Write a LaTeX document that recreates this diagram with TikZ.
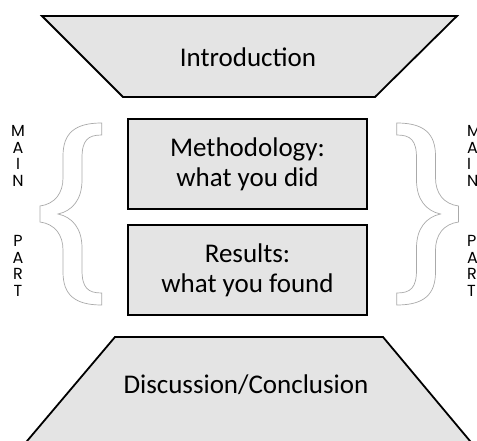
\documentclass[tikz,border=0pt]{standalone}
\usepackage{fontspec}
\setmainfont{Carlito}
\newfontfamily\lettfont{Poppins}
\definecolor{boxfill}{RGB}{228,228,228}
\definecolor{braceline}{RGB}{170,170,170}
\tikzset{
  shapeline/.style={draw=black, line width=1.8pt, fill=boxfill, line join=miter},
  mainbox/.style={draw=black, line width=2.4pt, fill=boxfill, minimum width=239pt, minimum height=90pt, inner sep=0pt, align=center, font=\fontsize{27}{30}\selectfont},
  bigtext/.style={font=\fontsize{27}{30}\selectfont, inner sep=0pt},
  letters/.style={font=\lettfont\fontsize{16}{16.6}\selectfont, inner sep=0pt},
  hbrace/.style={draw=braceline, line width=0.7pt, fill=white}
}
\newcommand\hollowbracepath{%
  (101.7,123) -- (101.7,135)
  .. controls (88,135) and (82,140) .. (82,158)
  -- (82,180)
  .. controls (82,200) and (72,211) .. (58,214)
  .. controls (72,217) and (82,228) .. (82,248)
  -- (82,270)
  .. controls (82,288) and (88,293) .. (101.7,293)
  -- (101.7,305)
  .. controls (75,305) and (63,295) .. (63,272)
  -- (63,250)
  .. controls (63,235) and (55,224) .. (40,222)
  -- (40,206)
  .. controls (55,204) and (63,193) .. (63,178)
  -- (63,156)
  .. controls (63,133) and (75,123) .. (101.7,123) -- cycle}
\begin{document}
\begin{tikzpicture}[x=1pt,y=-1pt]
\clip (0,0) rectangle (477,441);
\fill[white] (0,0) rectangle (477,441);
% top trapezoid
\draw[shapeline] (42,16) -- (457,16) -- (375,97) -- (123,97) -- cycle;
\node[bigtext] (intro) at (248,57) {Introduction};
% bottom trapezoid
\draw[shapeline] (115,337) -- (383,337) -- (475,447) -- (22,447) -- cycle;
\node[bigtext] (disc) at (246,385) {Discussion/Conclusion};
% middle boxes
\node[mainbox] (meth) at (247.5,164) {Methodology:\\what you did};
\node[mainbox] (res) at (247.5,270) {Results:\\what you found};
% braces
\draw[hbrace] \hollowbracepath;
\begin{scope}[shift={(498.5,0)}, xscale=-1]
\draw[hbrace] \hollowbracepath;
\end{scope}
% side letters
\node[letters, align=center] (lmain) at (18,156) {M\\A\\I\\N};
\node[letters, align=center] (lpart) at (18,266) {P\\A\\R\\T};
\node[letters, align=left, anchor=west] (rmain) at (467,156) {M\\A\\I\\N};
\node[letters, align=left, anchor=west] (rpart) at (467,266) {P\\A\\R\\T};
\end{tikzpicture}
\end{document}
